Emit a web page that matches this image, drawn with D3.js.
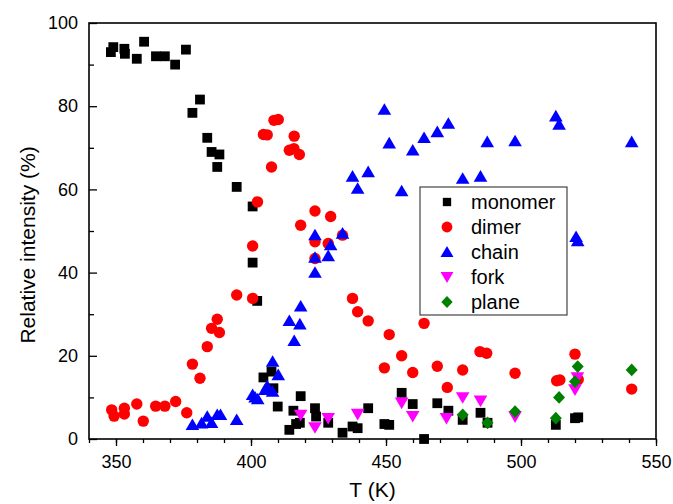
<!DOCTYPE html>
<html>
<head>
<meta charset="utf-8">
<script src="https://cdn.jsdelivr.net/npm/d3@7"></script>
<style>
  body { margin: 0; background: #fff; }
  text { font-family: "Liberation Sans", Arial, sans-serif; }
</style>
</head>
<body>
<div class="container"></div>
<script>
const WIDTH = 673;
const HEIGHT = 504;
const LEFT = 89, RIGHT = 656, TOP = 23, BOTTOM = 439;

// data: temperature (K) and relative intensity (%)
const monomerT = [348.1, 349.0, 353.1, 353.3, 357.7, 360.4, 364.8, 368.1, 371.9, 375.9, 378.3, 381.1, 383.8, 385.4, 388.3, 387.5, 394.7, 400.6, 400.6, 402.3, 404.6, 407.6, 408.3, 409.9, 415.7, 414.2, 416.7, 418.1, 418.4, 423.7, 424.1, 428.6, 433.9, 437.6, 439.5, 443.4, 449.4, 451.2, 455.8, 459.9, 464.1, 469.0, 473.1, 478.4, 485.0, 487.6, 512.9, 520.0, 521.2];
const monomerV = [93.0, 94.2, 93.8, 92.6, 91.4, 95.5, 92.0, 92.0, 90.0, 93.6, 78.4, 81.6, 72.4, 69.0, 68.4, 65.4, 60.6, 55.9, 42.4, 33.2, 14.8, 16.2, 12.2, 7.8, 6.8, 2.2, 3.6, 3.9, 10.3, 7.4, 5.4, 3.9, 1.5, 3.0, 2.6, 7.4, 3.6, 3.4, 11.1, 8.4, 0.0, 8.6, 6.8, 4.6, 6.3, 3.9, 3.4, 5.0, 5.2];

const dimerT = [348.4, 349.3, 353.1, 353.1, 357.7, 360.1, 364.7, 368.1, 372.1, 376.2, 378.3, 381.1, 383.8, 385.4, 387.5, 388.3, 394.7, 400.6, 400.6, 402.4, 404.6, 406.0, 407.6, 408.5, 410.1, 416.0, 414.2, 415.9, 417.9, 418.4, 423.7, 423.7, 423.7, 429.5, 428.6, 433.9, 437.6, 439.5, 443.4, 451.2, 449.4, 455.8, 459.9, 464.1, 469.0, 472.7, 478.4, 484.8, 487.3, 497.8, 513.2, 514.4, 520.0, 521.2, 541.0];
const dimerV = [7.0, 5.5, 7.4, 6.0, 8.4, 4.3, 7.9, 7.9, 9.0, 6.3, 18.0, 14.6, 22.2, 26.6, 28.8, 25.6, 34.6, 46.4, 33.8, 57.0, 73.2, 73.1, 65.4, 76.6, 76.8, 72.8, 69.4, 69.8, 68.4, 51.4, 54.8, 47.4, 43.4, 53.5, 47.0, 49.0, 33.8, 30.6, 28.4, 25.1, 17.1, 20.0, 16.0, 27.8, 17.5, 12.4, 16.6, 21.0, 20.6, 15.8, 14.0, 14.2, 20.4, 14.3, 12.0];

const chainT = [378.3, 381.7, 383.8, 385.4, 387.5, 388.7, 394.7, 400.6, 401.5, 402.5, 405.2, 406.0, 408.0, 410.1, 408.0, 414.2, 416.0, 418.4, 418.1, 423.7, 423.7, 423.7, 428.6, 429.5, 433.9, 437.6, 439.5, 443.4, 449.4, 451.2, 455.8, 459.9, 464.1, 469.0, 473.1, 478.4, 485.0, 487.5, 497.8, 512.9, 514.1, 520.4, 521.0, 541.0];
const chainV = [3.4, 3.8, 5.4, 3.9, 5.8, 5.8, 4.6, 10.6, 10.0, 9.6, 11.8, 12.7, 18.6, 15.4, 11.4, 28.4, 23.6, 31.9, 27.6, 49.0, 43.6, 40.0, 44.0, 46.6, 49.4, 63.1, 60.2, 64.2, 79.2, 71.1, 59.6, 69.4, 72.4, 73.8, 75.8, 62.6, 63.1, 71.4, 71.6, 77.6, 75.6, 48.6, 47.6, 71.4];

const forkT = [418.4, 423.7, 428.6, 439.5, 455.8, 459.9, 472.4, 478.4, 485.0, 497.8, 520.0, 520.9];
const forkV = [5.8, 2.8, 5.0, 6.0, 8.7, 5.5, 5.0, 10.0, 9.2, 5.4, 11.9, 14.8];

const planeT = [478.4, 487.6, 497.8, 512.9, 514.1, 520.0, 521.0, 541.0];
const planeV = [5.8, 3.9, 6.6, 5.0, 10.0, 13.8, 17.4, 16.6];

const seriesNames = ["monomer", "dimer", "chain", "fork", "plane"];
const xTicks = [350, 400, 450, 500, 550];
const yTicks = [0, 20, 40, 60, 80, 100];

var series = [
	{name: seriesNames[0], t: monomerT, v: monomerV, shape: "square", color: "#000000"},
	{name: seriesNames[1], t: dimerT, v: dimerV, shape: "circle", color: "#ff0000"},
	{name: seriesNames[2], t: chainT, v: chainV, shape: "up", color: "#0000ff"},
	{name: seriesNames[3], t: forkT, v: forkV, shape: "down", color: "#ff00ff"},
	{name: seriesNames[4], t: planeT, v: planeV, shape: "diamond", color: "#008000"}
];

var translate = function(x, y){
	return "translate(" + x + "," + y + ")";
};

// marker outlines, centred on 0,0
var markerPath = function(shape, s){
	if(shape == "square") return "M" + (-4.9*s) + "," + (-4.9*s) + "h" + (9.8*s) + "v" + (9.8*s) + "h" + (-9.8*s) + "Z";
	if(shape == "circle") return d3.symbol(d3.symbolCircle, Math.PI * 5.7 * 5.7 * s * s)();
	if(shape == "up") return "M0," + (-6.4*s) + "L" + (6.8*s) + "," + (5.2*s) + "L" + (-6.8*s) + "," + (5.2*s) + "Z";
	if(shape == "down") return "M0," + (6.4*s) + "L" + (6.8*s) + "," + (-5.2*s) + "L" + (-6.8*s) + "," + (-5.2*s) + "Z";
	return "M0," + (-6.4*s) + "L" + (6*s) + ",0L0," + (6.4*s) + "L" + (-6*s) + ",0Z";
};

var svg = d3.select('.container').append('svg')
	.attr('width', WIDTH)
	.attr('height', HEIGHT);

var xScale = d3.scaleLinear().domain([340, 550]).range([LEFT, RIGHT]);
var yScale = d3.scaleLinear().domain([0, 100]).range([BOTTOM, TOP]);

// minor ticks
svg.append('g')
	.attr('transform', translate(0, BOTTOM))
	.call(d3.axisBottom(xScale).tickValues(d3.range(340, 551, 10)).tickSizeInner(4).tickSizeOuter(0).tickFormat(""))
	.call(g => g.select('.domain').remove())
	.selectAll('line').attr('stroke-width', 1.3);

svg.append('g')
	.attr('transform', translate(LEFT, 0))
	.call(d3.axisLeft(yScale).tickValues(d3.range(10, 100, 20)).tickSizeInner(-5).tickSizeOuter(0).tickFormat(""))
	.call(g => g.select('.domain').remove())
	.selectAll('line').attr('stroke-width', 1.3);

// major ticks
var xAxis = svg.append('g')
	.attr('transform', translate(0, BOTTOM))
	.call(d3.axisBottom(xScale).tickValues(xTicks).tickSizeInner(7).tickSizeOuter(0).tickPadding(9));
xAxis.select('.domain').remove();
xAxis.selectAll('line').attr('stroke-width', 1.3);
xAxis.selectAll('text').attr('font-size', 18).attr('fill', '#000')
	.attr('font-family', '"Liberation Sans", Arial, sans-serif');

var yAxis = svg.append('g')
	.attr('transform', translate(LEFT, 0))
	.call(d3.axisLeft(yScale).tickValues(yTicks).tickSizeInner(-8).tickSizeOuter(0).tickPadding(11));
yAxis.select('.domain').remove();
yAxis.selectAll('line').attr('stroke-width', 1.3);
yAxis.selectAll('text').attr('font-size', 18).attr('fill', '#000')
	.attr('font-family', '"Liberation Sans", Arial, sans-serif');

// frame
svg.append('rect')
	.attr('x', LEFT).attr('y', TOP)
	.attr('width', RIGHT - LEFT).attr('height', BOTTOM - TOP)
	.attr('fill', 'none').attr('stroke', '#000').attr('stroke-width', 1.6);

// points
series.forEach(function(s){
	var pts = s.t.map(function(t, i){ return {t: t, v: s.v[i]}; });
	svg.append('g').selectAll('path')
		.data(pts).enter().append('path')
		.attr('d', markerPath(s.shape, 1))
		.attr('transform', function(d){ return translate(xScale(d.t), yScale(d.v)); })
		.attr('fill', s.color);
});

// axis titles
svg.append('text')
	.attr('x', (LEFT + RIGHT) / 2).attr('y', 497)
	.attr('text-anchor', 'middle').attr('font-size', 21)
	.text('T (K)');

svg.append('text')
	.attr('transform', translate(35, 245) + ' rotate(-90)')
	.attr('text-anchor', 'middle').attr('font-size', 21)
	.text('Relative intensity (%)');

// legend
var legend = svg.append('g').attr('transform', translate(420, 187));
legend.append('rect')
	.attr('width', 147).attr('height', 128)
	.attr('fill', '#fff').attr('stroke', '#444').attr('stroke-width', 1.2);
var rows = legend.selectAll('g.row').data(series).enter().append('g')
	.attr('transform', function(d, i){ return translate(0, 15 + i * 25); });
rows.append('path')
	.attr('d', function(d){ return markerPath(d.shape, d.shape == "square" ? 0.85 : 0.95); })
	.attr('transform', translate(27, 0))
	.attr('fill', function(d){ return d.color; });
rows.append('text')
	.attr('x', 51).attr('y', 7)
	.attr('font-size', 20)
	.text(function(d){ return d.name; });
</script>
</body>
</html>
